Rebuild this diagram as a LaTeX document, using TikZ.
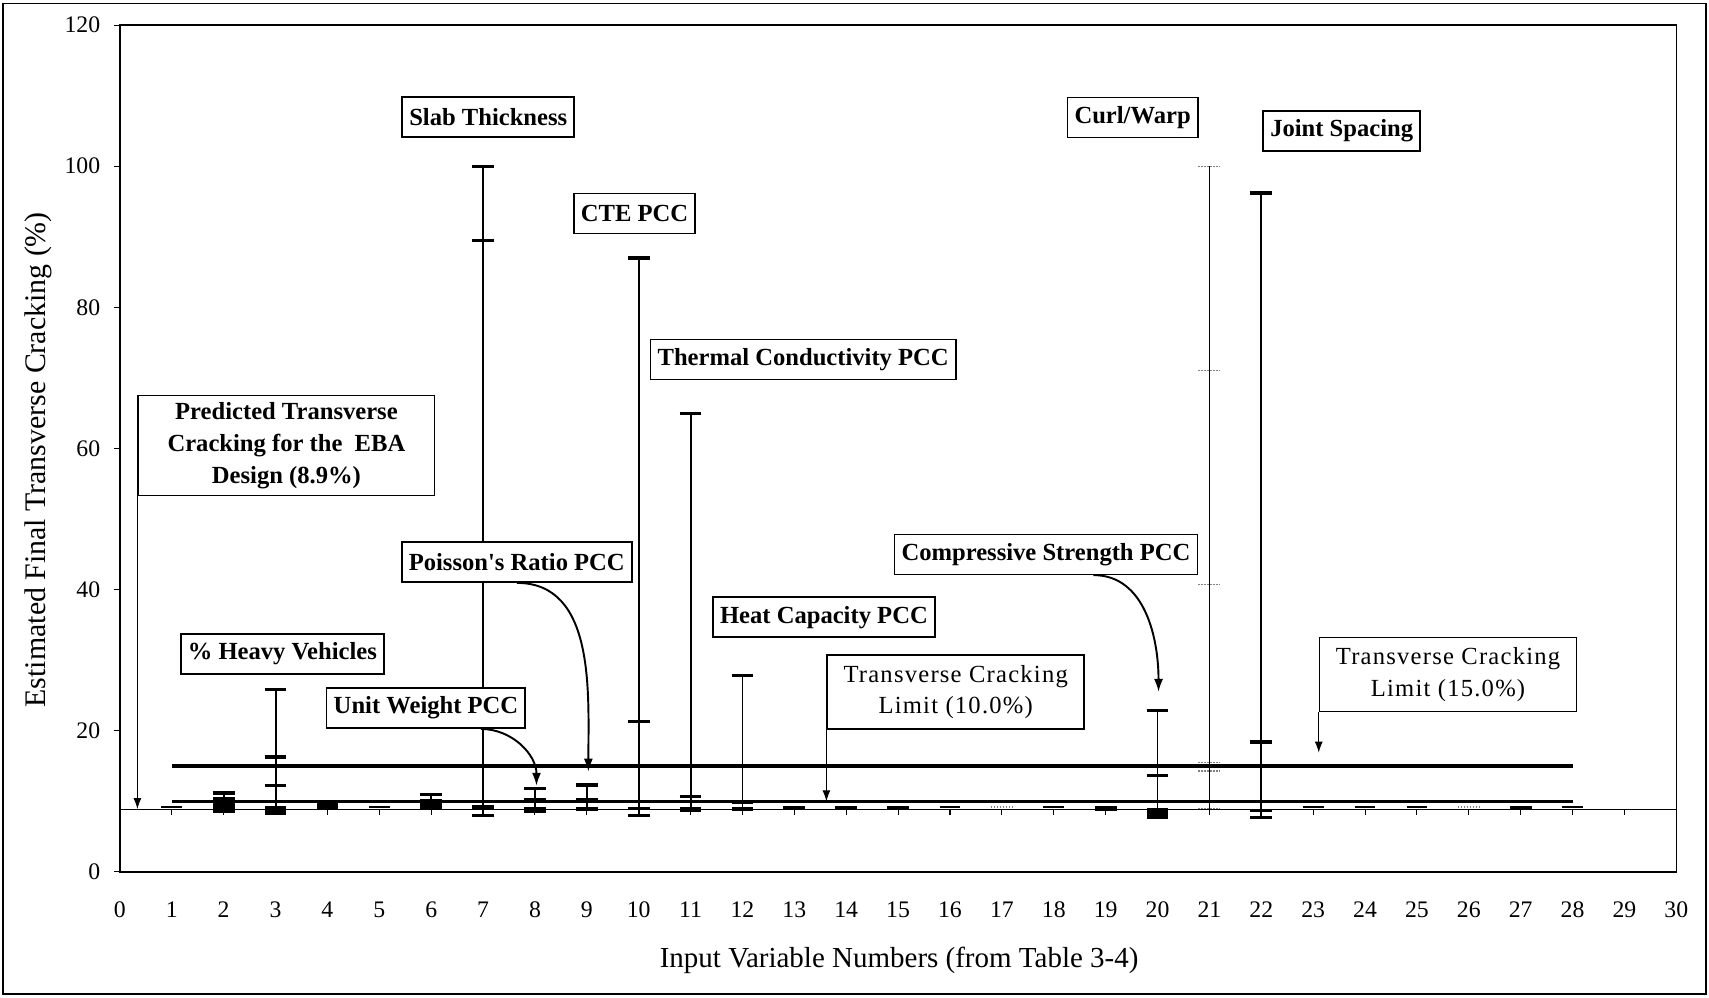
\documentclass[tikz,border=0pt]{standalone}
\usepackage{fontspec}
\setmainfont{Liberation Serif}
\newfontfamily\limfont[LetterSpace=5]{Liberation Serif}
\usetikzlibrary{positioning,arrows.meta}

\begin{document}
\begin{tikzpicture}[
	lbl/.style = {draw, line width=0.9pt, fill=white, font=\fontsize{14}{18}\selectfont\bfseries, inner xsep=4pt, minimum height=0.8cm},
	limbox/.style = {draw, line width=0.9pt, fill=white, font=\fontsize{14}{18}\limfont, align=center, minimum width=5.14cm, minimum height=1.48cm},
	bar/.style = {line width=1.1pt},
	barcap/.style = {line width=1.9pt},
	thincap/.style = {line width=1.2pt},
	faint/.style = {line width=0.7pt, gray, densely dotted},
	limit/.style = {line width=1.8pt},
	callout/.style = {line width=0.6pt, -{Latex[length=0.22cm,width=0.16cm]}},
	curved/.style = {line width=1.1pt, -{Latex[length=0.26cm,width=0.18cm]}},
	ticklbl/.style = {font=\fontsize{13.5}{15}\selectfont}
	]
	\useasboundingbox (0,0) rectangle (34.18,19.94);
	\draw[line width=0.8pt] (0.06,0.06) rectangle (34.12,19.87);
	\begin{scope}[shift={(2.398,2.502)}, x=1.0376cm, y=0.14115cm]
		% plot area and axes
		\draw[line width=0.7pt] (0,0) rectangle (30,120);
		\foreach \v in {0,20,...,120} {
			\draw[line width=0.6pt] (0,\v) -- (-0.116,\v);
			\node[ticklbl, anchor=east] (y\v) at (-0.26,\v) {\v};
		}
		\coordinate (ebaL) at (0,8.9);
		\coordinate (ebaR) at (30,8.9);
		\draw[line width=0.6pt] (ebaL) -- (ebaR);
		\foreach \i in {1,...,30}
			\draw[line width=0.6pt] (\i,8.9) -- (\i,8.05);
		\foreach \i in {0,...,30}
			\node[ticklbl] (x\i) at (\i,-5.4) {\i};
		\node[font=\fontsize{16.5}{20}\selectfont] (xtitle) at (15.02,-12.6) {Input Variable Numbers (from Table 3-4)};
		\node[font=\fontsize{17}{20}\selectfont, rotate=90] (ytitle) at (-1.57,58.4) {Estimated Final Transverse Cracking (\%)};
		% limit lines
		\coordinate (limA) at (1,10);
		\coordinate (limB) at (28,10);
		\coordinate (limC) at (1,15);
		\coordinate (limD) at (28,15);
		\draw[limit] (limA) -- (limB);
		\draw[limit] (limC) -- (limD);
		% ranges
		\foreach \x/\lo/\hi in {2/8.45/11.2, 3/8.06/25.8, 6/8.9/11.0, 7/7.9/100, 8/8.3/11.8, 9/8.6/12.3, 10/7.9/87, 11/8.5/65, 12/8.6/27.8, 20/7.5/22.9, 22/7.6/96.2}
			\draw[bar] (\x,\lo) -- (\x,\hi);
		\draw[line width=0.8pt] (21,8.9) -- (21,100);
		\foreach \x/\v in {2/11.2, 3/25.8, 3/16.3, 3/12.2, 6/11.0, 7/100, 7/89.5, 7/9.2, 7/8.0, 8/11.8, 8/10.2, 9/12.3, 9/10.2, 10/87, 10/21.3, 10/9.0, 10/8.0, 11/65, 11/10.65, 12/27.8, 12/9.8, 20/22.9, 20/13.7, 20/10.0, 22/96.2, 22/18.4, 22/8.7, 22/7.7}
			\draw[barcap] (\x-0.21,\v) -- (\x+0.21,\v);
		\foreach \x/\a/\b in {2/8.4/10.6, 3/8.06/9.4, 4/8.9/10.1, 6/8.9/10.4, 8/8.3/9.2, 9/8.6/9.2, 11/8.5/9.2, 12/8.6/9.2, 13/8.8/9.4, 14/8.8/9.4, 15/8.8/9.4, 19/8.7/9.4, 20/7.5/9.0, 27/8.8/9.4}
			\fill (\x-0.21,\a) rectangle (\x+0.21,\b);
		\foreach \x in {1,5,16,18,23,24,25,28}
			\draw[thincap] (\x-0.2,9.2) -- (\x+0.2,9.2);
		\foreach \x/\v in {17/9.2, 26/9.2, 21/100, 21/71.1, 21/40.7, 21/15.5, 21/14.3, 21/9.0}
			\draw[faint] (\x-0.21,\v) -- (\x+0.21,\v);
		% labels
		\node[lbl] (slab) at (7.10,107.0) {Slab Thickness};
		\node[lbl] (cte) at (9.92,93.3) {CTE PCC};
		\node[lbl] (thermal) at (13.17,72.6) {Thermal Conductivity PCC};
		\node[lbl] (curl) at (19.52,106.9) {Curl/Warp};
		\node[lbl] (joint) at (23.55,105.0) {Joint Spacing};
		\node[lbl, align=center, minimum width=5.93cm, minimum height=2.0cm] (pred) at (3.21,60.4) {Predicted Transverse\\Cracking for the\ \ EBA\\Design (8.9\%)};
		\node[lbl] (heavy) at (3.13,30.9) {\% Heavy Vehicles};
		\node[lbl] (unitw) at (5.90,23.2) {Unit Weight PCC};
		\node[lbl] (poisson) at (7.65,43.9) {Poisson\textquotesingle s Ratio PCC};
		\node[lbl] (heat) at (13.57,36.1) {Heat Capacity PCC};
		\node[lbl] (comp) at (17.85,45.0) {Compressive Strength PCC};
		\node[limbox] (lim10) at (16.11,25.5) {Transverse Cracking\\Limit (10.0\%)};
		\node[limbox] (lim15) at (25.60,28.0) {Transverse Cracking\\Limit (15.0\%)};
		% callouts
		\coordinate (predtip) at (pred.south west |- ebaL);
		\draw[callout] (pred.south west) -- (predtip);
		\coordinate (lim10tip) at (lim10.south west |- limA);
		\draw[callout] (lim10.south west) -- (lim10tip);
		\coordinate (lim15y) at (0,16.9);
		\coordinate (lim15tip) at (lim15.south west |- lim15y);
		\draw[callout] (lim15.south west) -- (lim15tip);
		\coordinate (uwtip) at (8.03,12.2);
		\draw[curved] ([xshift=1.1cm]unitw.south) to[out=0,in=90] (uwtip);
		\coordinate (potip) at (9.03,14.2);
		\draw[curved] (poisson.south) to[out=0,in=90] (potip);
		\coordinate (cotip) at (20.02,25.5);
		\draw[curved] ([xshift=0.95cm]comp.south) to[out=0,in=90] (cotip);
	\end{scope}
\end{tikzpicture}
\end{document}
